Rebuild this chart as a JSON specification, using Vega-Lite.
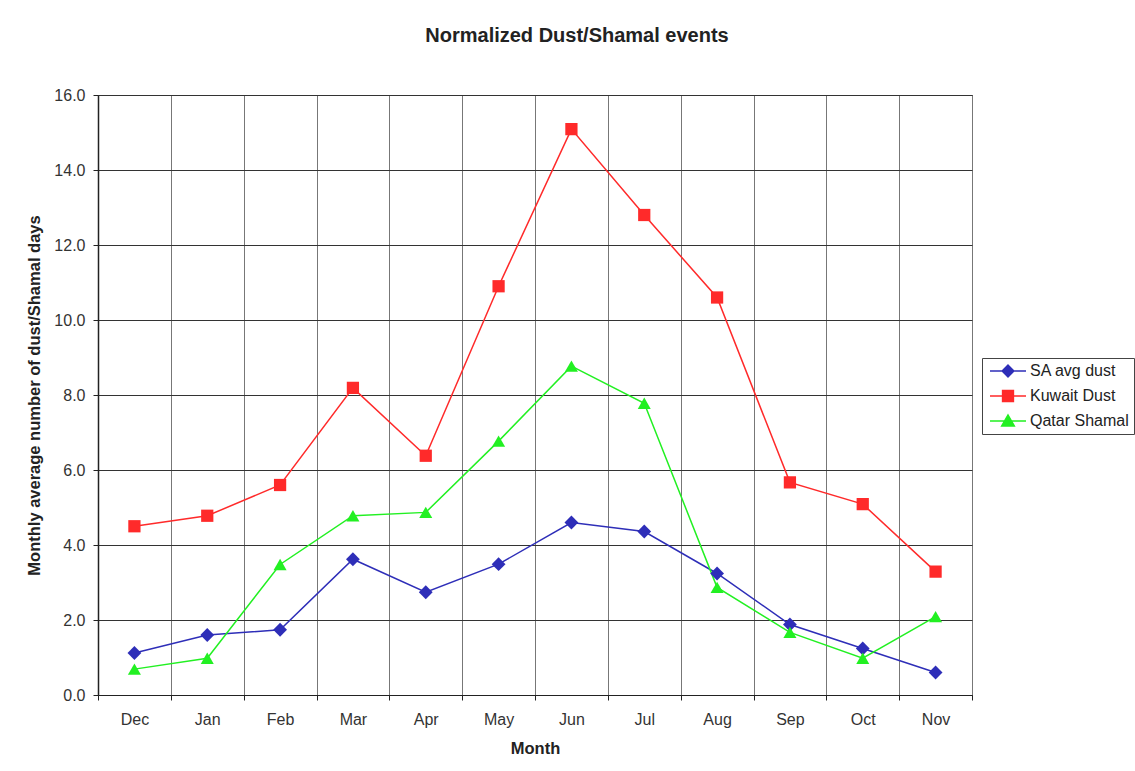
{
  "$schema": "https://vega.github.io/schema/vega-lite/v6.json",
  "width": 874,
  "height": 600,
  "autosize": "none",
  "padding": {"left": 98, "top": 95, "right": 163, "bottom": 76},
  "background": "white",
  "title": {
    "text": "Normalized Dust/Shamal events",
    "font": "Liberation Sans",
    "fontSize": 20,
    "fontWeight": "bold",
    "color": "#222222",
    "anchor": "middle",
    "dx": 42,
    "offset": 41
  },
  "data": {
    "values": [
      {"month": "Dec", "series": "SA avg dust", "value": 1.12},
      {"month": "Jan", "series": "SA avg dust", "value": 1.6},
      {"month": "Feb", "series": "SA avg dust", "value": 1.74},
      {"month": "Mar", "series": "SA avg dust", "value": 3.62},
      {"month": "Apr", "series": "SA avg dust", "value": 2.74},
      {"month": "May", "series": "SA avg dust", "value": 3.49},
      {"month": "Jun", "series": "SA avg dust", "value": 4.6},
      {"month": "Jul", "series": "SA avg dust", "value": 4.36},
      {"month": "Aug", "series": "SA avg dust", "value": 3.24},
      {"month": "Sep", "series": "SA avg dust", "value": 1.88},
      {"month": "Oct", "series": "SA avg dust", "value": 1.24},
      {"month": "Nov", "series": "SA avg dust", "value": 0.6},
      {"month": "Dec", "series": "Kuwait Dust", "value": 4.5},
      {"month": "Jan", "series": "Kuwait Dust", "value": 4.78},
      {"month": "Feb", "series": "Kuwait Dust", "value": 5.6},
      {"month": "Mar", "series": "Kuwait Dust", "value": 8.19},
      {"month": "Apr", "series": "Kuwait Dust", "value": 6.38},
      {"month": "May", "series": "Kuwait Dust", "value": 10.9},
      {"month": "Jun", "series": "Kuwait Dust", "value": 15.09},
      {"month": "Jul", "series": "Kuwait Dust", "value": 12.8},
      {"month": "Aug", "series": "Kuwait Dust", "value": 10.6},
      {"month": "Sep", "series": "Kuwait Dust", "value": 5.67},
      {"month": "Oct", "series": "Kuwait Dust", "value": 5.09},
      {"month": "Nov", "series": "Kuwait Dust", "value": 3.29},
      {"month": "Dec", "series": "Qatar Shamal", "value": 0.69},
      {"month": "Jan", "series": "Qatar Shamal", "value": 0.98},
      {"month": "Feb", "series": "Qatar Shamal", "value": 3.48},
      {"month": "Mar", "series": "Qatar Shamal", "value": 4.78},
      {"month": "Apr", "series": "Qatar Shamal", "value": 4.87},
      {"month": "May", "series": "Qatar Shamal", "value": 6.77},
      {"month": "Jun", "series": "Qatar Shamal", "value": 8.77},
      {"month": "Jul", "series": "Qatar Shamal", "value": 7.78},
      {"month": "Aug", "series": "Qatar Shamal", "value": 2.87},
      {"month": "Sep", "series": "Qatar Shamal", "value": 1.67},
      {"month": "Oct", "series": "Qatar Shamal", "value": 0.98},
      {"month": "Nov", "series": "Qatar Shamal", "value": 2.09}
    ]
  },
  "encoding": {
    "x": {
      "field": "month",
      "type": "nominal",
      "sort": ["Dec", "Jan", "Feb", "Mar", "Apr", "May", "Jun", "Jul", "Aug", "Sep", "Oct", "Nov"],
      "scale": {"type": "band", "paddingInner": 0, "paddingOuter": 0},
      "bandPosition": 0.5,
      "axis": {
        "title": "Month",
        "tickBand": "extent",
        "labelAngle": 0,
        "grid": true,
        "gridColor": "#777777",
        "gridWidth": 1,
        "domainColor": "#222222",
        "domainWidth": 1,
        "tickColor": "#222222",
        "tickSize": 5,
        "labelFont": "Liberation Sans",
        "labelFontSize": 16,
        "labelColor": "#333333",
        "labelPadding": 11,
        "titleFont": "Liberation Sans",
        "titleFontSize": 16.5,
        "titleFontWeight": "bold",
        "titleColor": "#222222",
        "titlePadding": 13
      }
    },
    "y": {
      "field": "value",
      "type": "quantitative",
      "scale": {"domain": [0, 16], "nice": false},
      "axis": {
        "title": "Monthly average number of dust/Shamal days",
        "values": [0, 2, 4, 6, 8, 10, 12, 14, 16],
        "format": ".1f",
        "grid": true,
        "gridColor": "#333333",
        "gridWidth": 1,
        "domainColor": "#222222",
        "domainWidth": 1.5,
        "tickColor": "#222222",
        "tickSize": 5,
        "labelFont": "Liberation Sans",
        "labelFontSize": 16,
        "labelColor": "#333333",
        "labelPadding": 8,
        "titleFont": "Liberation Sans",
        "titleFontSize": 16.5,
        "titleFontWeight": "bold",
        "titleColor": "#222222",
        "titlePadding": 11
      }
    },
    "color": {
      "field": "series",
      "type": "nominal",
      "scale": {
        "domain": ["SA avg dust", "Kuwait Dust", "Qatar Shamal"],
        "range": ["#2E2EB8", "#FF2A2A", "#22F022"]
      },
      "legend": {
        "title": null,
        "orient": "none",
        "legendX": 884,
        "legendY": 263,
        "strokeColor": "#444444",
        "fillColor": "white",
        "padding": 5,
        "symbolSize": 144,
        "symbolOffset": 13,
        "labelOffset": 14,
        "rowPadding": 7,
        "labelFont": "Liberation Sans",
        "labelFontSize": 16,
        "labelColor": "#222222",
        "encode": {
          "symbols": {
            "update": {
              "shape": {"signal": "datum.value == 'SA avg dust' ? 'M-3,0H3M0,-1L1,0L0,1L-1,0Z' : datum.value == 'Kuwait Dust' ? 'M-3,0H3M-0.92,-0.92H0.92V0.92H-0.92Z' : 'M-3,0H3M0,-1.05L1.08,0.85H-1.08Z'"},
              "fill": {"signal": "scale('color', datum.value)"},
              "stroke": {"signal": "scale('color', datum.value)"},
              "strokeWidth": {"value": 1.3},
              "opacity": {"value": 1},
              "fillOpacity": {"value": 1}
            }
          }
        }
      }
    }
  },
  "layer": [
    {"mark": {"type": "line", "strokeWidth": 1.5}},
    {
      "transform": [{"filter": "datum.series == 'SA avg dust'"}],
      "mark": {"type": "point", "filled": true, "opacity": 1, "shape": "diamond", "size": 190}
    },
    {
      "transform": [{"filter": "datum.series == 'Kuwait Dust'"}],
      "mark": {"type": "point", "filled": true, "opacity": 1, "shape": "square", "size": 150}
    },
    {
      "transform": [{"filter": "datum.series == 'Qatar Shamal'"}],
      "mark": {"type": "point", "filled": true, "opacity": 1, "shape": "triangle-up", "size": 170}
    }
  ],
  "config": {
    "view": {"stroke": "#333333", "strokeWidth": 1}
  }
}
